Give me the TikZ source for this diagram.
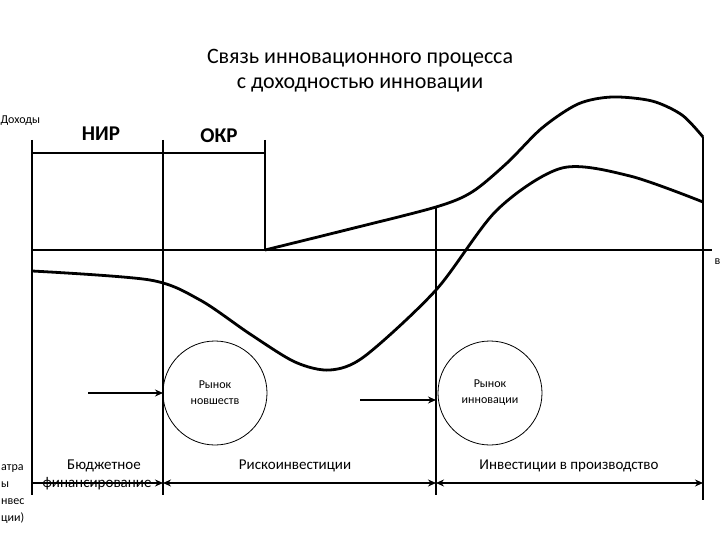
\documentclass[tikz,border=0pt]{standalone}
\usepackage{fontspec}
\setmainfont{Carlito}
\usetikzlibrary{arrows.meta,positioning}

\begin{document}
\begin{tikzpicture}[x=1pt,y=-1pt,
    ln/.style={line width=2.8pt},
    crv/.style={line width=2.8pt,line join=round},
    mkt/.style={circle,draw,line width=0.8pt,minimum size=104pt,inner sep=0pt,
                align=center,font=\fontsize{12}{16}\selectfont},
    ph/.style={font=\bfseries\fontsize{21}{24}\selectfont},
    lbl/.style={font=\fontsize{15}{18}\selectfont},
    sm/.style={font=\fontsize{12}{16}\selectfont},
    arr/.style={line width=2.6pt,-{Stealth[length=8pt,width=7pt]}},
    darr/.style={line width=2.8pt,{Stealth[length=8pt,width=7pt]}-{Stealth[length=8pt,width=7pt]}}
  ]
  \useasboundingbox (0,0) rectangle (720,540);
  % title
  \node[align=center,font=\fontsize{22}{25}\selectfont] (ttl) at (360,71)
    {Связь инновационного процесса\\с доходностью инновации};
  \node[sm,anchor=west] (dox) at (-3,121) {Доходы};
  \node[sm,anchor=west] (vr) at (711,262) {в};
  % frame points
  \coordinate (l0) at (32,140);  \coordinate (l1) at (32,495);
  \coordinate (v1t) at (163,140); \coordinate (v1b) at (163,495);
  \coordinate (v2t) at (265,140); \coordinate (v2b) at (265,250);
  \coordinate (v3t) at (436,207); \coordinate (v3b) at (436,495);
  \coordinate (v4t) at (703,137); \coordinate (v4b) at (703,500);
  \coordinate (h0) at (32,153);  \coordinate (h1) at (265,153);
  \coordinate (a0) at (32,250);  \coordinate (a1) at (712,250);
  \draw[ln] (l0)--(l1);
  \draw[ln] (v1t)--(v1b);
  \draw[ln] (v2t)--(v2b);
  \draw[ln] (v3t)--(v3b);
  \draw[ln] (v4t)--(v4b);
  \draw[ln] (h0)--(h1);
  \draw[ln] (a0)--(a1);
  \node[ph] (nir) at (101,134) {НИР};
  \node[ph] (okr) at (219,136) {ОКР};
  % income curves
  \draw[crv] plot[smooth,tension=0.5] coordinates {(v2b) (350,229) (v3t)
    (472,192) (507,163) (542,128) (578,104) (612,97) (652,101) (682,115) (v4t)};
  \draw[crv] plot[smooth,tension=0.5] coordinates {(32,271) (150,280)
    (200,300) (250,334) (295,362) (330,370) (365,356) (436,290)
    (497,210) (562,168) (630,176) (703,202)};
  % markets
  \node[mkt] (rn) at (215,393) {Рынок\\новшеств};
  \node[mkt] (ri) at (490,393) {Рынок\\инновации};
  \coordinate (p1) at (88,393);  \coordinate (q1) at (163,393);
  \coordinate (p2) at (360,400); \coordinate (q2) at (436,400);
  \draw[arr] (p1)--(q1);
  \draw[arr] (p2)--(q2);
  % financing
  \coordinate (b0) at (32,483);  \coordinate (b1) at (163,483);
  \coordinate (b2) at (436,483); \coordinate (b3) at (703,483);
  \draw[arr,line width=2.8pt] (b0)--(b1);
  \draw[darr] (b1)--(b2);
  \draw[darr] (b2)--(b3);
  \node[lbl] (bud) at (104,466) {Бюджетное};
  \node[lbl] (fin) at (97,484) {финансирование};
  \node[lbl] (risk) at (295,466) {Рискоинвестиции};
  \node[lbl] (prod) at (569,466) {Инвестиции в производство};
  \node[sm,anchor=west,inner xsep=0pt] (z1) at (1,469) {атра};
  \node[sm,anchor=west,inner xsep=0pt] (z2) at (1,485) {ы};
  \node[sm,anchor=west,inner xsep=0pt] (z3) at (1,502) {нвес};
  \node[sm,anchor=west,inner xsep=0pt] (z4) at (1,518) {ции)};
\end{tikzpicture}
\end{document}
